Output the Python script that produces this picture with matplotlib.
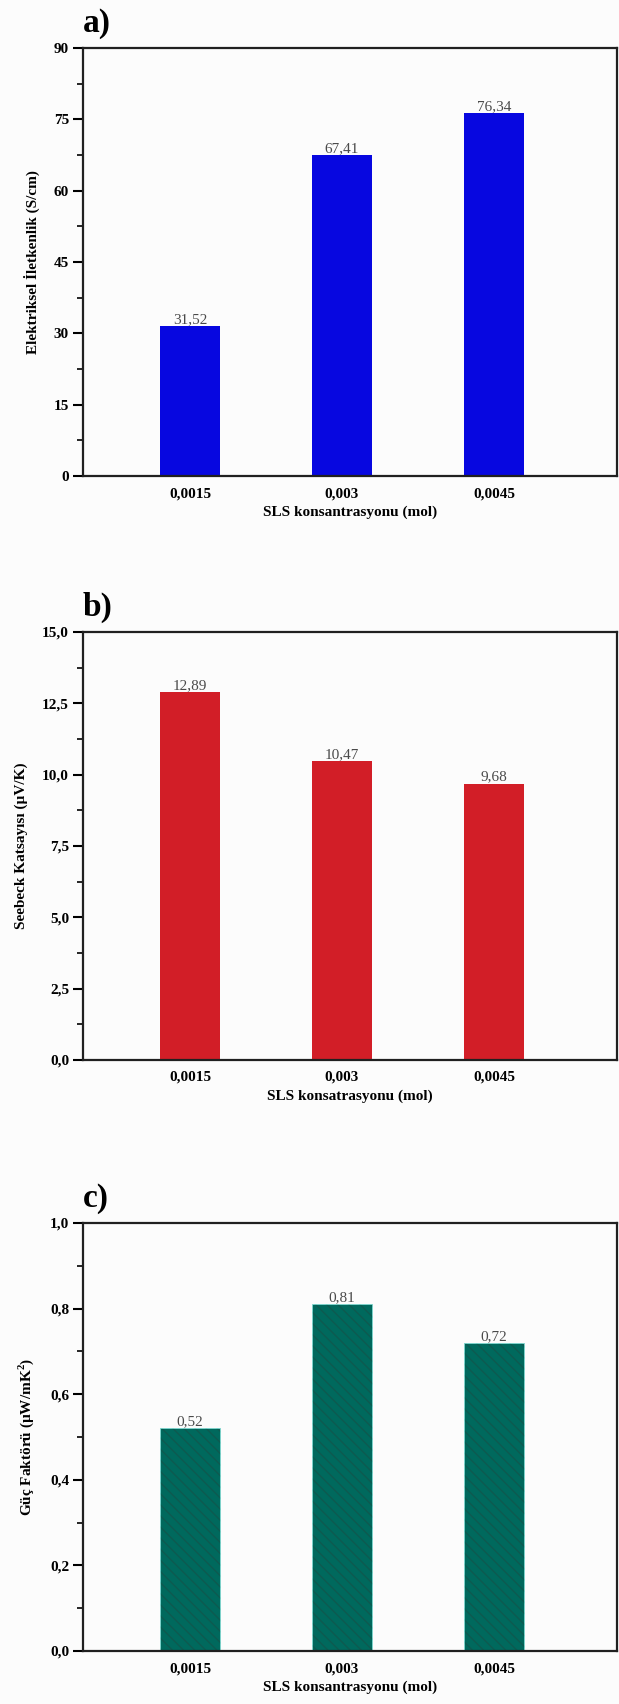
import matplotlib
matplotlib.use("Agg")
import matplotlib.pyplot as plt
from matplotlib.ticker import MultipleLocator, FuncFormatter

plt.rcParams['font.family'] = ['Liberation Serif', 'DejaVu Serif']
plt.rcParams['hatch.linewidth'] = 1.0

categories = ["0,0015", "0,003", "0,0045"]
conductivity = [31.52, 67.41, 76.34]
seebeck = [12.89, 10.47, 9.68]
power_factor = [0.52, 0.81, 0.72]

panels = [
    dict(letter="a)", values=conductivity, color="#0707E0", hatch=None,
         ylabel="Elektriksel İletkenlik (S/cm)", xlabel="SLS konsantrasyonu (mol)",
         ylim=(0, 90), major=15, minor=7.5, dec=0, lab_dec=2, bottom=0.7207),
    dict(letter="b)", values=seebeck, color="#D21E27", hatch=None,
         ylabel="Seebeck Katsayısı (µV/K)", xlabel="SLS konsatrasyonu (mol)",
         ylim=(0, 15), major=2.5, minor=1.25, dec=1, lab_dec=2, bottom=0.378),
    dict(letter="c)", values=power_factor, color="#00695D", hatch="\\\\\\",
         ylabel="Güç Faktörü (µW/mK$^\\mathregular{2}$)", xlabel="SLS konsantrasyonu (mol)",
         ylim=(0, 1.0), major=0.2, minor=0.1, dec=1, lab_dec=2, bottom=0.0311),
]

fig = plt.figure(figsize=(6.19, 17.04), dpi=100, facecolor="#FCFCFC")
x = [1, 2, 3]
for p in panels:
    ax = fig.add_axes([0.134, p["bottom"], 0.863, 0.2512])
    ax.set_facecolor("#FCFCFC")
    bars = ax.bar(x, p["values"], width=0.4, color=p["color"],
                  edgecolor="#7FD8D0" if p["hatch"] else p["color"],
                  linewidth=0.6 if p["hatch"] else 0)
    if p["hatch"]:
        for b in bars:
            b.set_hatch(p["hatch"])
            b._hatch_color = matplotlib.colors.to_rgba("#0E5A50")
    for xi, v in zip(x, p["values"]):
        ax.text(xi, v, f"{v:.{p['lab_dec']}f}".replace(".", ","), ha="center", va="bottom",
                fontsize=11, color="#4a4a4a")
    ax.set_xlim(0.296, 3.81)
    ax.set_ylim(*p["ylim"])
    ax.yaxis.set_major_locator(MultipleLocator(p["major"]))
    ax.yaxis.set_minor_locator(MultipleLocator(p["minor"]))
    d = p["dec"]
    ax.yaxis.set_major_formatter(FuncFormatter(lambda val, pos, d=d: f"{val:.{d}f}".replace(".", ",")))
    ax.set_xticks(x)
    ax.set_xticklabels(categories)
    ax.tick_params(axis="x", length=0, pad=8, labelsize=11)
    ax.tick_params(axis="y", which="major", direction="out", length=7, width=1.5, labelsize=11, pad=3)
    ax.tick_params(axis="y", which="minor", direction="out", length=4, width=1.2)
    for lab in ax.get_xticklabels() + ax.get_yticklabels():
        lab.set_fontweight("bold")
    for s in ax.spines.values():
        s.set_linewidth(1.6)
        s.set_color("#202020")
    ax.set_ylabel(p["ylabel"], fontsize=11, fontweight="bold", labelpad=10)
    ax.set_xlabel(p["xlabel"], fontsize=11, fontweight="bold", labelpad=4)
    ax.text(0.0, 1.02, p["letter"], transform=ax.transAxes, fontsize=24,
            fontweight="bold", ha="left", va="bottom")

fig.savefig("out.png", dpi=100, facecolor=fig.get_facecolor())
